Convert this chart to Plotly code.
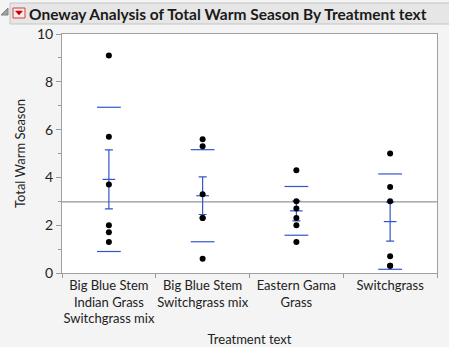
import numpy as np
import plotly.graph_objects as go

categories = ["Big Blue Stem<br>Indian Grass<br>Switchgrass mix",
              "Big Blue Stem<br>Switchgrass mix",
              "Eastern Gama<br>Grass",
              "Switchgrass"]
g1 = [9.1, 5.7, 3.7, 2.0, 1.7, 1.3]
g2 = [5.6, 5.3, 3.3, 2.3, 2.3, 0.6]
g3 = [4.3, 3.0, 2.7, 2.3, 2.0, 1.3]
g4 = [5.0, 3.6, 3.0, 0.7, 0.3, 0.3]
groups = [g1, g2, g3, g4]
y_ticks = [0, 2, 4, 6, 8, 10]

FONT = "Lato"
BLUE = "#3355cc"

fig = go.Figure()

xs, ys = [], []
for c, g in zip(categories, groups):
    xs += [c] * len(g)
    ys += g

means = [float(np.mean(g)) for g in groups]
sds = [float(np.std(g, ddof=1)) for g in groups]
ses = [s / np.sqrt(len(g)) for s, g in zip(sds, groups)]
grand = float(np.mean(ys))

# grand mean line
fig.add_shape(type="line", xref="paper", yref="y", x0=0, x1=1, y0=grand, y1=grand,
              line=dict(color="#7a7a7a", width=1), layer="below")

# std dev lines
fig.add_trace(go.Scatter(
    x=categories + categories,
    y=[m + s for m, s in zip(means, sds)] + [m - s for m, s in zip(means, sds)],
    mode="markers",
    marker=dict(symbol="line-ew", size=17, line=dict(color=BLUE, width=1.2)),
    hoverinfo="skip", showlegend=False))

# mean with error bars
fig.add_trace(go.Scatter(
    x=categories, y=means, mode="markers",
    marker=dict(symbol="line-ew", size=9, line=dict(color=BLUE, width=1.2)),
    error_y=dict(type="data", array=ses, visible=True, color=BLUE, thickness=1.2, width=4),
    hoverinfo="skip", showlegend=False))

# points
fig.add_trace(go.Scatter(x=xs, y=ys, mode="markers",
                         marker=dict(color="black", size=6),
                         showlegend=False))

px = lambda v: (v - 62) / 375
py = lambda v: 1 + (34 - v) / 239

# header bar
fig.add_shape(type="rect", xref="paper", yref="paper",
              x0=px(10), x1=px(460), y0=py(24), y1=py(3),
              fillcolor="#e6e6e6", line=dict(color="#c4c4c4", width=1))
# disclosure triangle
fig.add_shape(type="path", xref="paper", yref="paper",
              path=f"M {px(8)} {py(8)} L {px(8)} {py(15)} L {px(1)} {py(15)} Z",
              fillcolor="#a0a0a0", line=dict(color="#808080", width=1))
# red menu icon
fig.add_shape(type="rect", xref="paper", yref="paper",
              x0=px(13), x1=px(25), y0=py(18), y1=py(8),
              fillcolor="#fbeaea", line=dict(color="#d04040", width=1))
fig.add_shape(type="path", xref="paper", yref="paper",
              path=f"M {px(15.5)} {py(11)} L {px(22.5)} {py(11)} L {px(19)} {py(15)} Z",
              fillcolor="#cc0000", line=dict(color="#cc0000", width=0.5))

fig.add_annotation(text="<b>Oneway Analysis of Total Warm Season By Treatment text</b>",
                   xref="paper", yref="paper", x=px(27), y=py(13.5),
                   xanchor="left", yanchor="middle", showarrow=False,
                   font=dict(family=FONT, size=15.5, color="#1a1a1a"))

fig.update_layout(
    width=449, height=347,
    margin=dict(l=62, r=12, t=34, b=74),
    paper_bgcolor="#f4f4f4", plot_bgcolor="white",
    font=dict(family=FONT, size=13, color="#222222"),
    xaxis=dict(type="category", categoryorder="array", categoryarray=categories,
               range=[-0.5, 3.5], tickson="boundaries", ticks="outside", ticklen=4,
               tickangle=0, automargin=False,
               tickcolor="#9a9a9a", showline=True, linecolor="#a0a0a0", mirror=True,
               showgrid=False, zeroline=False,
               title=dict(text="Treatment text", standoff=10, font=dict(size=13)),
               tickfont=dict(size=13)),
    yaxis=dict(range=[0, 10], tickvals=y_ticks, ticks="outside", ticklen=5,
               automargin=False,
               tickcolor="#9a9a9a", showline=True, linecolor="#a0a0a0", mirror=True,
               showgrid=False, zeroline=False,
               minor=dict(tickvals=[1, 3, 5, 7, 9], ticks="outside", ticklen=3,
                          tickcolor="#9a9a9a"),
               title=dict(text="Total Warm Season", standoff=8, font=dict(size=13)),
               tickfont=dict(size=14)),
)

fig.write_html("out.html")
